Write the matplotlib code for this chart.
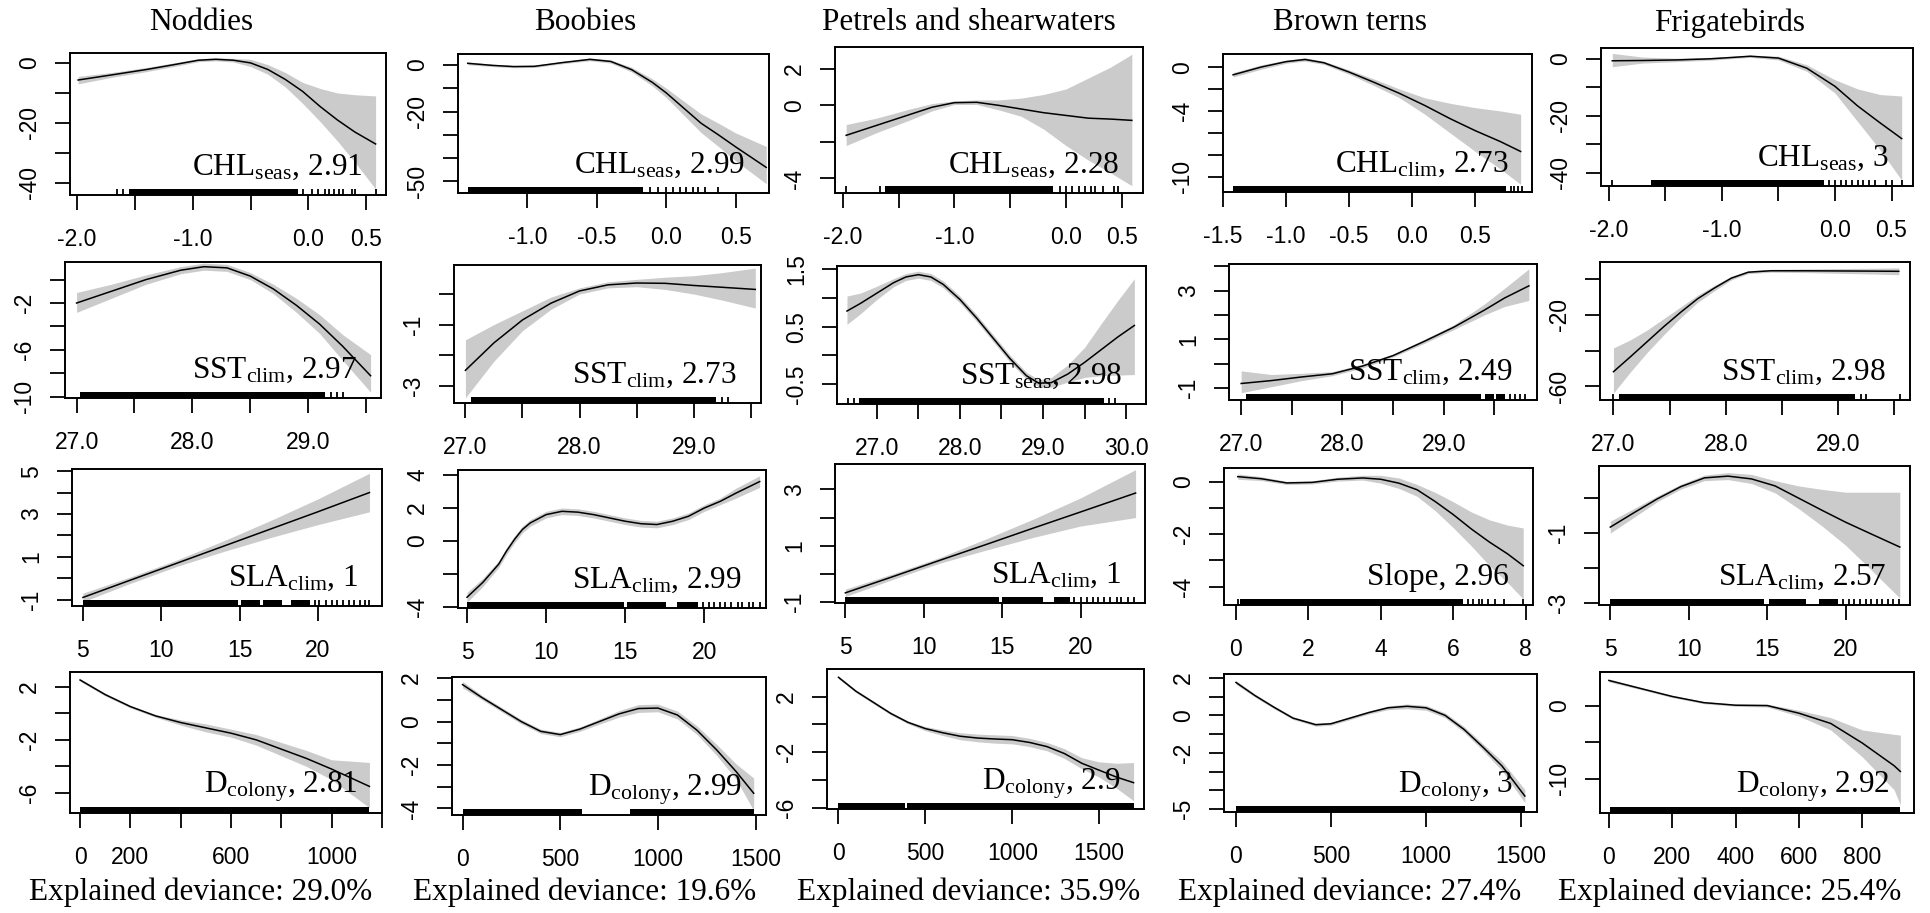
"""GAM partial-effect panels: four smooth terms for each of five seabird groups."""

import matplotlib.pyplot as plt

W, H = 1930, 913

plt.rcParams["mathtext.fontset"] = "custom"
plt.rcParams["mathtext.rm"] = "Liberation Serif"
plt.rcParams["mathtext.it"] = "Liberation Serif:italic"

SPECIES = ["Noddies", "Boobies", "Petrels and shearwaters", "Brown terns", "Frigatebirds"]
DEVIANCE = ["29.0", "19.6", "35.9", "27.4", "25.4"]

# (variable, subscript, edf) for each panel, by species then row
TERMS = [
    [("CHL", "seas", "2.91"), ("SST", "clim", "2.97"), ("SLA", "clim", "1"), ("D", "colony", "2.81")],
    [("CHL", "seas", "2.99"), ("SST", "clim", "2.73"), ("SLA", "clim", "2.99"), ("D", "colony", "2.99")],
    [("CHL", "seas", "2.28"), ("SST", "seas", "2.98"), ("SLA", "clim", "1"), ("D", "colony", "2.9")],
    [("CHL", "clim", "2.73"), ("SST", "clim", "2.49"), ("Slope", "", "2.96"), ("D", "colony", "3")],
    [("CHL", "seas", "3"), ("SST", "clim", "2.98"), ("SLA", "clim", "2.57"), ("D", "colony", "2.92")],
]

# ---- Noddies ----
NOD_CHL_X = [-1.99, -1.7, -1.4, -1.15, -0.95, -0.8, -0.65, -0.5, -0.35, -0.2, -0.05, 0.1, 0.25, 0.4, 0.58]
NOD_CHL_FIT = [-5.7, -4.0, -2.2, -0.5, 0.9, 1.2, 0.9, 0.0, -2.2, -5.5, -9.5, -14.5, -19.0, -23.0, -27.0]
NOD_CHL_LO = [-7.0, -4.8, -2.9, -1.1, 0.4, 0.7, 0.3, -1.2, -3.8, -8.0, -13.5, -19.5, -26.0, -33.0, -42.0]
NOD_CHL_HI = [-4.5, -3.2, -1.5, 0.1, 1.4, 1.7, 1.5, 1.2, -0.6, -3.2, -6.5, -8.5, -10.0, -10.6, -11.0]
NOD_CHL_RUG = [(-1.55, -0.09)]
NOD_CHL_TICKS = [-1.65, -1.6, -0.05, 0.03, 0.08, 0.14, 0.18, 0.22, 0.26, 0.3, 0.38, 0.4, 0.58]

NOD_SST_X = [27.0, 27.3, 27.6, 27.9, 28.1, 28.3, 28.5, 28.7, 28.9, 29.1, 29.3, 29.54]
NOD_SST_FIT = [-2.0, -1.0, 0.0, 0.8, 1.1, 1.0, 0.3, -0.8, -2.2, -3.8, -5.7, -8.2]
NOD_SST_LO = [-2.8, -1.6, -0.4, 0.5, 0.8, 0.7, 0.0, -1.2, -2.8, -4.6, -6.9, -9.6]
NOD_SST_HI = [-1.1, -0.4, 0.4, 1.1, 1.4, 1.3, 0.6, -0.4, -1.6, -3.0, -4.7, -6.4]
NOD_SST_RUG = [(27.03, 29.15)]
NOD_SST_TICKS = [29.2, 29.25, 29.3]

NOD_SLA_X = [5.0, 8.0, 11.0, 14.0, 17.0, 20.0, 23.3]
NOD_SLA_FIT = [-0.9, -0.1, 0.7, 1.5, 2.3, 3.1, 4.0]
NOD_SLA_LO = [-1.1, -0.25, 0.55, 1.25, 1.9, 2.5, 3.1]
NOD_SLA_HI = [-0.7, 0.05, 0.85, 1.75, 2.7, 3.7, 4.9]
NOD_SLA_RUG = [(5.0, 14.9), (15.1, 16.3), (16.5, 17.7), (18.3, 19.5)]
NOD_SLA_TICKS = [19.8, 20.1, 20.5, 20.9, 21.2, 21.6, 22.0, 22.3, 22.7, 23.0, 23.3]

NOD_D_X = [0, 100, 200, 300, 400, 500, 600, 700, 800, 900, 1000, 1150]
NOD_D_FIT = [2.5, 1.4, 0.5, -0.2, -0.7, -1.1, -1.5, -2.0, -2.7, -3.4, -4.2, -5.5]
NOD_D_LO = [2.4, 1.3, 0.4, -0.3, -0.9, -1.4, -1.8, -2.4, -3.2, -4.0, -5.0, -7.1]
NOD_D_HI = [2.6, 1.5, 0.6, -0.1, -0.5, -0.8, -1.2, -1.6, -2.2, -2.8, -3.5, -3.7]
NOD_D_RUG = [(0, 1150)]
NOD_D_TICKS = []

# ---- Boobies ----
BOO_CHL_X = [-1.43, -1.25, -1.1, -0.95, -0.75, -0.55, -0.4, -0.25, -0.1, 0.0, 0.125, 0.25, 0.375, 0.5, 0.72]
BOO_CHL_FIT = [0.7, -0.2, -0.7, -0.6, 1.0, 2.4, 1.5, -2.0, -7.5, -12.0, -18.5, -25.0, -30.0, -35.2, -44.0]
BOO_CHL_LO = [0.1, -0.7, -1.2, -1.1, 0.5, 1.8, 0.8, -3.0, -9.0, -14.0, -21.5, -29.0, -35.0, -41.2, -51.0]
BOO_CHL_HI = [1.3, 0.3, -0.2, -0.1, 1.5, 3.0, 2.2, -1.0, -6.0, -10.0, -15.5, -21.0, -25.0, -29.2, -35.0]
BOO_CHL_RUG = [(-1.43, -0.17)]
BOO_CHL_TICKS = [-0.12, -0.06, 0.0, 0.05, 0.1, 0.14, 0.19, 0.23, 0.28, 0.37]

BOO_SST_X = [27.0, 27.25, 27.5, 27.75, 28.0, 28.25, 28.5, 28.75, 29.0, 29.25, 29.54]
BOO_SST_FIT = [-2.5, -1.6, -0.85, -0.3, 0.1, 0.3, 0.36, 0.35, 0.28, 0.22, 0.15]
BOO_SST_LO = [-3.4, -2.2, -1.2, -0.5, 0.0, 0.2, 0.24, 0.15, 0.0, -0.2, -0.46]
BOO_SST_HI = [-1.5, -1.0, -0.55, -0.1, 0.2, 0.4, 0.48, 0.55, 0.6, 0.7, 0.85]
BOO_SST_RUG = [(27.05, 29.2)]
BOO_SST_TICKS = [29.25, 29.3]

BOO_SLA_X = [5.0, 6, 7, 7.5, 8, 8.5, 9, 10, 11, 12, 13, 14, 15, 16, 17, 18, 19, 20, 21, 22, 23.5]
BOO_SLA_FIT = [-3.4, -2.5, -1.4, -0.6, 0.1, 0.7, 1.1, 1.6, 1.8, 1.75, 1.6, 1.4, 1.2, 1.05, 1.0, 1.2, 1.5,
               2.0, 2.4, 2.9, 3.6]
BOO_SLA_LO = [-3.7, -2.75, -1.6, -0.8, -0.1, 0.5, 0.9, 1.4, 1.6, 1.55, 1.4, 1.2, 1.0, 0.85, 0.8, 1.0, 1.3,
              1.8, 2.2, 2.6, 3.25]
BOO_SLA_HI = [-3.1, -2.25, -1.2, -0.4, 0.3, 0.9, 1.3, 1.8, 2.0, 1.95, 1.8, 1.6, 1.4, 1.25, 1.2, 1.4, 1.7,
              2.2, 2.6, 3.2, 3.95]
BOO_SLA_RUG = [(5.0, 14.9), (15.1, 17.6), (18.3, 19.6)]
BOO_SLA_TICKS = [19.9, 20.3, 20.6, 21.0, 21.3, 21.7, 22.1, 22.4, 22.8, 23.1, 23.5]

BOO_D_X = [0, 100, 200, 300, 400, 500, 600, 700, 800, 900, 1000, 1100, 1200, 1300, 1400, 1490]
BOO_D_FIT = [1.7, 1.1, 0.55, 0.0, -0.45, -0.6, -0.35, 0.0, 0.35, 0.6, 0.62, 0.3, -0.4, -1.3, -2.3, -3.3]
BOO_D_LO = [1.55, 1.0, 0.45, -0.1, -0.55, -0.7, -0.45, -0.12, 0.2, 0.42, 0.45, 0.12, -0.6, -1.55, -2.65, -4.1]
BOO_D_HI = [1.85, 1.2, 0.65, 0.1, -0.35, -0.5, -0.25, 0.12, 0.5, 0.78, 0.8, 0.48, -0.2, -1.05, -1.95, -2.6]
BOO_D_RUG = [(0, 610), (857, 1490)]
BOO_D_TICKS = []

# ---- Petrels and shearwaters ----
PET_CHL_X = [-1.97, -1.7, -1.4, -1.2, -1.0, -0.8, -0.6, -0.4, -0.2, 0.0, 0.2, 0.4, 0.59]
PET_CHL_FIT = [-1.64, -1.1, -0.5, -0.1, 0.15, 0.17, 0.0, -0.2, -0.4, -0.55, -0.7, -0.75, -0.82]
PET_CHL_LO = [-2.2, -1.5, -0.8, -0.3, 0.05, 0.05, -0.25, -0.6, -1.3, -2.2, -3.0, -3.7, -4.4]
PET_CHL_HI = [-1.05, -0.7, -0.2, 0.1, 0.25, 0.3, 0.3, 0.4, 0.6, 0.9, 1.5, 2.1, 2.8]
PET_CHL_RUG = [(-1.62, -0.12)]
PET_CHL_TICKS = [-1.97, -1.67, -0.05, 0.0, 0.05, 0.12, 0.17, 0.22, 0.26, 0.33, 0.43, 0.47]

PET_SST_X = [26.64, 26.8, 27.0, 27.2, 27.35, 27.5, 27.65, 27.8, 28.0, 28.2, 28.4, 28.6, 28.8, 28.95,
             29.1, 29.3, 29.5, 29.7, 29.9, 30.1]
PET_SST_FIT = [0.77, 0.9, 1.08, 1.26, 1.36, 1.4, 1.36, 1.23, 0.97, 0.65, 0.3, -0.05, -0.35, -0.48,
               -0.47, -0.32, -0.12, 0.1, 0.32, 0.52]
PET_SST_LO = [0.54, 0.72, 0.97, 1.19, 1.3, 1.34, 1.3, 1.17, 0.91, 0.59, 0.24, -0.11, -0.41, -0.54,
              -0.55, -0.46, -0.38, -0.35, -0.34, -0.33]
PET_SST_HI = [1.03, 1.08, 1.2, 1.33, 1.42, 1.46, 1.42, 1.29, 1.03, 0.71, 0.36, 0.01, -0.29, -0.42,
              -0.38, -0.16, 0.14, 0.55, 0.95, 1.33]
PET_SST_RUG = [(26.78, 29.73)]
PET_SST_TICKS = [26.65, 26.72, 29.8, 29.87]

PET_SLA_X = [5.0, 8.0, 11.0, 14.0, 17.0, 20.0, 23.5]
PET_SLA_FIT = [-0.67, -0.1, 0.48, 1.05, 1.63, 2.2, 2.87]
PET_SLA_LO = [-0.8, -0.2, 0.38, 0.85, 1.3, 1.7, 2.0]
PET_SLA_HI = [-0.54, 0.0, 0.58, 1.25, 1.95, 2.7, 3.7]
PET_SLA_RUG = [(5.0, 14.8), (15.0, 17.6), (18.3, 19.3)]
PET_SLA_TICKS = [19.6, 20.0, 20.4, 20.8, 21.1, 21.5, 21.9, 22.3, 22.6, 23.0, 23.4]

PET_D_X = [0, 100, 200, 300, 400, 500, 600, 700, 800, 900, 1000, 1100, 1200, 1300, 1400, 1500, 1600, 1698]
PET_D_FIT = [3.4, 2.4, 1.6, 0.8, 0.15, -0.3, -0.6, -0.85, -0.98, -1.05, -1.1, -1.3, -1.6, -2.1, -2.8, -3.3, -3.8, -4.2]
PET_D_LO = [3.3, 2.3, 1.5, 0.7, 0.05, -0.45, -0.8, -1.1, -1.25, -1.35, -1.4, -1.6, -1.9, -2.45, -3.2, -3.8, -4.6, -5.5]
PET_D_HI = [3.5, 2.5, 1.7, 0.9, 0.25, -0.15, -0.4, -0.6, -0.7, -0.75, -0.8, -1.0, -1.3, -1.75, -2.4, -2.7, -2.8, -2.75]
PET_D_RUG = [(0, 380), (395, 1698)]
PET_D_TICKS = []

# ---- Brown terns ----
BRT_CHL_X = [-1.42, -1.2, -1.0, -0.85, -0.7, -0.5, -0.3, -0.1, 0.1, 0.3, 0.5, 0.7, 0.86]
BRT_CHL_FIT = [-0.7, 0.0, 0.5, 0.7, 0.4, -0.45, -1.4, -2.4, -3.5, -4.7, -5.8, -6.8, -7.7]
BRT_CHL_LO = [-0.9, -0.2, 0.35, 0.55, 0.25, -0.65, -1.7, -2.8, -4.3, -6.0, -7.7, -9.3, -10.7]
BRT_CHL_HI = [-0.5, 0.2, 0.65, 0.85, 0.55, -0.25, -1.1, -2.0, -2.8, -3.3, -3.7, -4.0, -4.3]
BRT_CHL_RUG = [(-1.42, 0.74)]
BRT_CHL_TICKS = [0.78, 0.81, 0.84, 0.87]

BRT_SST_X = [27.0, 27.3, 27.6, 27.9, 28.2, 28.5, 28.8, 29.1, 29.4, 29.6, 29.84]
BRT_SST_FIT = [-0.82, -0.7, -0.55, -0.42, -0.1, 0.33, 0.9, 1.5, 2.2, 2.7, 3.2]
BRT_SST_LO = [-1.2, -0.95, -0.7, -0.5, -0.18, 0.27, 0.82, 1.4, 2.0, 2.35, 2.6]
BRT_SST_HI = [-0.3, -0.45, -0.4, -0.33, -0.02, 0.39, 0.98, 1.6, 2.45, 3.1, 3.9]
BRT_SST_RUG = [(27.05, 29.37), (29.41, 29.5), (29.52, 29.6)]
BRT_SST_TICKS = [29.65, 29.7, 29.75, 29.8]

BRT_SLOPE_X = [0.05, 0.7, 1.4, 2.1, 2.8, 3.5, 4.0, 4.5, 5.0, 5.5, 6.0, 6.5, 7.0, 7.5, 7.93]
BRT_SLOPE_FIT = [0.2, 0.12, -0.04, -0.02, 0.1, 0.15, 0.1, -0.05, -0.3, -0.75, -1.25, -1.8, -2.3, -2.75, -3.2]
BRT_SLOPE_LO = [0.1, 0.05, -0.1, -0.08, 0.03, 0.07, -0.05, -0.25, -0.55, -1.1, -1.75, -2.45, -3.2, -3.85, -4.47]
BRT_SLOPE_HI = [0.3, 0.2, 0.02, 0.04, 0.18, 0.25, 0.25, 0.15, -0.1, -0.4, -0.76, -1.15, -1.45, -1.65, -1.76]
BRT_SLOPE_RUG = [(0.12, 6.26)]
BRT_SLOPE_TICKS = [0.05, 6.4, 6.55, 6.7, 6.8, 6.95, 7.15, 7.4, 7.93]

BRT_D_X = [0, 100, 200, 300, 420, 500, 600, 700, 800, 900, 1000, 1100, 1200, 1300, 1400, 1520]
BRT_D_FIT = [1.75, 1.05, 0.43, -0.15, -0.5, -0.45, -0.15, 0.15, 0.4, 0.48, 0.4, 0.0, -0.75, -1.7, -2.7, -4.3]
BRT_D_LO = [1.65, 0.97, 0.35, -0.22, -0.58, -0.53, -0.23, 0.07, 0.3, 0.35, 0.27, -0.13, -0.9, -1.88, -2.95, -4.65]
BRT_D_HI = [1.85, 1.13, 0.51, -0.08, -0.42, -0.37, -0.07, 0.23, 0.5, 0.6, 0.53, 0.13, -0.6, -1.52, -2.45, -3.95]
BRT_D_RUG = [(0, 1520)]
BRT_D_TICKS = []

# ---- Frigatebirds ----
FRI_CHL_X = [-1.97, -1.7, -1.4, -1.1, -0.9, -0.75, -0.5, -0.25, 0.0, 0.2, 0.4, 0.59]
FRI_CHL_FIT = [-0.6, -0.5, -0.3, 0.1, 0.6, 1.0, 0.35, -3.2, -9.6, -16.5, -22.5, -28.0]
FRI_CHL_LO = [-2.7, -1.4, -0.9, -0.4, 0.2, 0.6, -0.3, -4.3, -12.0, -22.0, -32.0, -42.7]
FRI_CHL_HI = [2.0, 0.7, 0.3, 0.6, 1.0, 1.4, 1.0, -2.0, -7.3, -10.5, -12.5, -13.0]
FRI_CHL_RUG = [(-1.63, -0.1)]
FRI_CHL_TICKS = [-1.97, -0.05, 0.0, 0.05, 0.1, 0.15, 0.2, 0.25, 0.3, 0.35, 0.45, 0.5, 0.59]

FRI_SST_X = [27.0, 27.15, 27.3, 27.45, 27.6, 27.75, 27.9, 28.05, 28.2, 28.4, 28.7, 29.0, 29.3, 29.54]
FRI_SST_FIT = [-51.8, -43.5, -35.0, -26.5, -18.5, -11.0, -5.0, 0.5, 3.8, 4.6, 4.6, 4.5, 4.4, 4.3]
FRI_SST_LO = [-63.7, -52.0, -41.0, -31.0, -21.5, -13.0, -6.5, -0.5, 3.0, 3.8, 3.6, 3.2, 2.8, 2.4]
FRI_SST_HI = [-38.5, -34.0, -28.5, -22.0, -15.5, -9.0, -3.5, 1.5, 4.6, 5.4, 5.6, 5.8, 6.0, 6.2]
FRI_SST_RUG = [(27.05, 29.15)]
FRI_SST_TICKS = [27.0, 29.2, 29.25, 29.55]

FRI_SLA_X = [5.0, 6.5, 8.0, 9.5, 11.0, 12.5, 14.0, 15.5, 17.0, 18.5, 20.0, 21.5, 23.45]
FRI_SLA_FIT = [-0.83, -0.42, -0.02, 0.33, 0.58, 0.63, 0.55, 0.35, 0.0, -0.35, -0.69, -1.0, -1.4]
FRI_SLA_LO = [-1.0, -0.55, -0.1, 0.26, 0.5, 0.53, 0.42, 0.15, -0.3, -0.8, -1.35, -2.0, -2.86]
FRI_SLA_HI = [-0.66, -0.3, 0.06, 0.4, 0.66, 0.73, 0.68, 0.5, 0.35, 0.25, 0.17, 0.17, 0.17]
FRI_SLA_RUG = [(5.0, 14.8), (15.1, 17.5), (18.3, 19.5)]
FRI_SLA_TICKS = [19.8, 20.2, 20.5, 20.9, 21.3, 21.6, 22.0, 22.3, 22.7, 23.0, 23.4]

FRI_D_X = [0, 100, 200, 300, 400, 500, 600, 700, 800, 900, 920]
FRI_D_FIT = [3.5, 2.4, 1.3, 0.45, 0.1, 0.05, -1.0, -2.4, -5.1, -8.2, -9.0]
FRI_D_LO = [3.3, 2.25, 1.15, 0.3, -0.05, -0.15, -1.4, -3.3, -7.0, -11.5, -13.6]
FRI_D_HI = [3.7, 2.55, 1.45, 0.6, 0.25, 0.25, -0.6, -1.6, -3.3, -3.9, -4.0]
FRI_D_RUG = [(4, 918)]
FRI_D_TICKS = []

CURVES = [
    [(NOD_CHL_X, NOD_CHL_FIT, NOD_CHL_LO, NOD_CHL_HI, NOD_CHL_RUG, NOD_CHL_TICKS),
     (NOD_SST_X, NOD_SST_FIT, NOD_SST_LO, NOD_SST_HI, NOD_SST_RUG, NOD_SST_TICKS),
     (NOD_SLA_X, NOD_SLA_FIT, NOD_SLA_LO, NOD_SLA_HI, NOD_SLA_RUG, NOD_SLA_TICKS),
     (NOD_D_X, NOD_D_FIT, NOD_D_LO, NOD_D_HI, NOD_D_RUG, NOD_D_TICKS)],
    [(BOO_CHL_X, BOO_CHL_FIT, BOO_CHL_LO, BOO_CHL_HI, BOO_CHL_RUG, BOO_CHL_TICKS),
     (BOO_SST_X, BOO_SST_FIT, BOO_SST_LO, BOO_SST_HI, BOO_SST_RUG, BOO_SST_TICKS),
     (BOO_SLA_X, BOO_SLA_FIT, BOO_SLA_LO, BOO_SLA_HI, BOO_SLA_RUG, BOO_SLA_TICKS),
     (BOO_D_X, BOO_D_FIT, BOO_D_LO, BOO_D_HI, BOO_D_RUG, BOO_D_TICKS)],
    [(PET_CHL_X, PET_CHL_FIT, PET_CHL_LO, PET_CHL_HI, PET_CHL_RUG, PET_CHL_TICKS),
     (PET_SST_X, PET_SST_FIT, PET_SST_LO, PET_SST_HI, PET_SST_RUG, PET_SST_TICKS),
     (PET_SLA_X, PET_SLA_FIT, PET_SLA_LO, PET_SLA_HI, PET_SLA_RUG, PET_SLA_TICKS),
     (PET_D_X, PET_D_FIT, PET_D_LO, PET_D_HI, PET_D_RUG, PET_D_TICKS)],
    [(BRT_CHL_X, BRT_CHL_FIT, BRT_CHL_LO, BRT_CHL_HI, BRT_CHL_RUG, BRT_CHL_TICKS),
     (BRT_SST_X, BRT_SST_FIT, BRT_SST_LO, BRT_SST_HI, BRT_SST_RUG, BRT_SST_TICKS),
     (BRT_SLOPE_X, BRT_SLOPE_FIT, BRT_SLOPE_LO, BRT_SLOPE_HI, BRT_SLOPE_RUG, BRT_SLOPE_TICKS),
     (BRT_D_X, BRT_D_FIT, BRT_D_LO, BRT_D_HI, BRT_D_RUG, BRT_D_TICKS)],
    [(FRI_CHL_X, FRI_CHL_FIT, FRI_CHL_LO, FRI_CHL_HI, FRI_CHL_RUG, FRI_CHL_TICKS),
     (FRI_SST_X, FRI_SST_FIT, FRI_SST_LO, FRI_SST_HI, FRI_SST_RUG, FRI_SST_TICKS),
     (FRI_SLA_X, FRI_SLA_FIT, FRI_SLA_LO, FRI_SLA_HI, FRI_SLA_RUG, FRI_SLA_TICKS),
     (FRI_D_X, FRI_D_FIT, FRI_D_LO, FRI_D_HI, FRI_D_RUG, FRI_D_TICKS)],
]

# axis ticks and the labels R kept (empty string = tick without label)
CHL_A = [-2.0, -1.5, -1.0, -0.5, 0.0, 0.5]
CHL_A_LAB = ["-2.0", "", "-1.0", "", "0.0", "0.5"]
SST_A = [27.0, 27.5, 28.0, 28.5, 29.0, 29.5]
SST_A_LAB = ["27.0", "", "28.0", "", "29.0", ""]
SLA_A = [5, 10, 15, 20]
SLA_A_LAB = ["5", "10", "15", "20"]

X_TICKS = [
    [(CHL_A, CHL_A_LAB), (SST_A, SST_A_LAB), (SLA_A, SLA_A_LAB),
     ([0, 200, 400, 600, 800, 1000, 1200], ["0", "200", "", "600", "", "1000", ""])],
    [([-1.0, -0.5, 0.0, 0.5], ["-1.0", "-0.5", "0.0", "0.5"]), (SST_A, SST_A_LAB), (SLA_A, SLA_A_LAB),
     ([0, 500, 1000, 1500], ["0", "500", "1000", "1500"])],
    [(CHL_A, CHL_A_LAB),
     ([27.0, 27.5, 28.0, 28.5, 29.0, 29.5, 30.0], ["27.0", "", "28.0", "", "29.0", "", "30.0"]),
     (SLA_A, SLA_A_LAB), ([0, 500, 1000, 1500], ["0", "500", "1000", "1500"])],
    [([-1.5, -1.0, -0.5, 0.0, 0.5], ["-1.5", "-1.0", "-0.5", "0.0", "0.5"]), (SST_A, SST_A_LAB),
     ([0, 2, 4, 6, 8], ["0", "2", "4", "6", "8"]), ([0, 500, 1000, 1500], ["0", "500", "1000", "1500"])],
    [(CHL_A, CHL_A_LAB), (SST_A, SST_A_LAB), (SLA_A, SLA_A_LAB),
     ([0, 200, 400, 600, 800], ["0", "200", "400", "600", "800"])],
]

Y_TICKS = [
    [([0, -10, -20, -30, -40], ["0", "", "-20", "", "-40"]),
     ([0, -2, -4, -6, -8, -10], ["", "-2", "", "-6", "", "-10"]),
     ([5, 4, 3, 2, 1, 0, -1], ["5", "", "3", "", "1", "", "-1"]),
     ([2, 0, -2, -4, -6], ["2", "", "-2", "", "-6"])],
    [([0, -10, -20, -30, -40, -50], ["0", "", "-20", "", "", "-50"]),
     ([0, -1, -2, -3], ["", "-1", "", "-3"]),
     ([4, 2, 0, -2, -4], ["4", "2", "0", "", "-4"]),
     ([2, 1, 0, -1, -2, -3, -4], ["2", "", "0", "", "-2", "", "-4"])],
    [([2, 0, -2, -4], ["2", "0", "", "-4"]),
     ([1.5, 1.0, 0.5, 0.0, -0.5], ["1.5", "", "0.5", "", "-0.5"]),
     ([3, 2, 1, 0, -1], ["3", "", "1", "", "-1"]),
     ([2, 0, -2, -4, -6], ["2", "", "-2", "", "-6"])],
    [([0, -2, -4, -6, -8, -10], ["0", "", "-4", "", "", "-10"]),
     ([4, 3, 2, 1, 0, -1], ["", "3", "", "1", "", "-1"]),
     ([0, -1, -2, -3, -4], ["0", "", "-2", "", "-4"]),
     ([2, 1, 0, -1, -2, -3, -4, -5], ["2", "", "0", "", "-2", "", "", "-5"])],
    [([0, -10, -20, -30, -40], ["0", "", "-20", "", "-40"]),
     ([0, -20, -40, -60], ["", "-20", "", "-60"]),
     ([0, -1, -2, -3], ["", "-1", "", "-3"]),
     ([0, -5, -10], ["0", "", "-10"])],
]

# axis limits (x0, x1, y0, y1)
LIMITS = [
    [(-2.06, 0.67, -44.0, 3.3), (26.9, 29.63, -10.1, 1.5), (4.3, 24.1, -1.3, 5.1), (-40, 1200, -7.5, 3.1)],
    [(-1.5, 0.74, -55.0, 4.7), (26.9, 29.59, -3.57, 0.95), (4.43, 23.9, -4.05, 4.3), (-54, 1553, -4.3, 2.05)],
    [(-2.07, 0.69, -4.8, 3.2), (26.52, 30.24, -0.84, 1.55), (4.34, 24.1, -1.03, 3.9), (-66, 1758, -6.1, 4.0)],
    [(-1.5, 0.95, -11.4, 1.2), (26.88, 29.92, -1.5, 4.1), (-0.33, 8.2, -4.7, 0.53), (-63, 1584, -5.15, 2.2)],
    [(-2.07, 0.69, -44.7, 3.9), (26.88, 29.64, -67.6, 9.5), (4.28, 24.1, -3.06, 0.92), (-28, 963, -14.7, 4.66)],
]

# panel boxes in pixels: left, top, right, bottom
BOXES = [
    [(70, 53, 386, 195), (65, 262, 381, 398), (72, 469, 382, 606), (70, 672, 382, 813)],
    [(458, 54, 769, 193), (454, 265, 761, 403), (458, 470, 766, 608), (452, 677, 766, 815)],
    [(835, 47, 1143, 193), (837, 266, 1146, 404), (835, 464, 1145, 603), (827, 669, 1144, 809)],
    [(1223, 54, 1532, 192), (1229, 264, 1537, 400), (1224, 468, 1533, 605), (1224, 674, 1537, 812)],
    [(1601, 48, 1913, 186), (1600, 262, 1910, 400), (1599, 466, 1910, 605), (1600, 672, 1914, 813)],
]
TITLE_X = [201, 585, 969, 1350, 1730]

SERIF = "Liberation Serif"
SANS = ["Liberation Sans", "DejaVu Sans"]
BAND = "#cbcbcb"


def term_label(name, sub, edf):
    if sub:
        return f"{name}$_{{\\mathrm{{{sub}}}}}$, {edf}"
    return f"{name}, {edf}"


def draw_panel(fig, box, curve, xt, yt, lim, term):
    left, top, right, bottom = box
    ax = fig.add_axes([left / W, 1 - bottom / H, (right - left) / W, (bottom - top) / H])
    x, fit, lo, hi, rug, rug_ticks = curve

    ax.fill_between(x, lo, hi, color=BAND, linewidth=0)
    ax.plot(x, fit, color="black", linewidth=1.1)

    # rug along the bottom edge
    for a, b in rug:
        ax.axvspan(a, b, ymin=0, ymax=0.045, color="black", linewidth=0)
    if rug_ticks:
        ax.vlines(rug_ticks, 0, 0.045, color="black", linewidth=1.3,
                  transform=ax.get_xaxis_transform())

    ax.set_xlim(lim[0], lim[1])
    ax.set_ylim(lim[2], lim[3])
    ax.set_xticks(xt[0])
    ax.set_xticklabels(xt[1], family=SANS, fontsize=16.5)
    ax.set_yticks(yt[0])
    ax.set_yticklabels(yt[1], family=SANS, fontsize=16.5, rotation=90, va="center")
    ax.tick_params(axis="both", direction="out", length=10.8, width=1.3, colors="black")
    ax.tick_params(axis="x", pad=13)
    ax.tick_params(axis="y", pad=10)
    for sp in ax.spines.values():
        sp.set_linewidth(1.4)

    ax.annotate(term_label(*term), xy=(1, 0), xycoords="axes fraction",
                xytext=(-24, 20), textcoords="offset pixels",
                ha="right", va="baseline", family=SERIF, fontsize=22.5, zorder=5)


def main():
    fig = plt.figure(figsize=(W / 100, H / 100), dpi=100)

    for c in range(5):
        fig.text(TITLE_X[c] / W, 1 - 23 / H, SPECIES[c], ha="center", va="center",
                 family=SERIF, fontsize=22.5)
        fig.text(TITLE_X[c] / W, 1 - 892 / H, f"Explained deviance: {DEVIANCE[c]}%",
                 ha="center", va="center", family=SERIF, fontsize=22.5)
        for r in range(4):
            draw_panel(fig, BOXES[c][r], CURVES[c][r], X_TICKS[c][r], Y_TICKS[c][r],
                       LIMITS[c][r], TERMS[c][r])

    fig.savefig("out.png", dpi=100)
    plt.close(fig)


if __name__ == "__main__":
    main()
